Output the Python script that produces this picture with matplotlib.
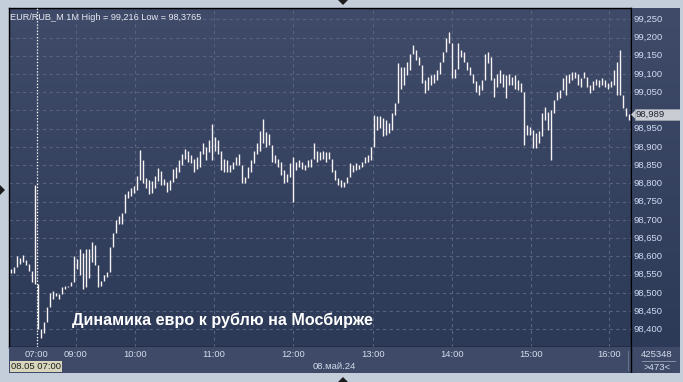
import numpy as np
import matplotlib.pyplot as plt
from matplotlib.colors import LinearSegmentedColormap
from matplotlib.patches import Rectangle, Polygon

# EUR/RUB_M 1M, 08.05.24 - low/high per chart slot
lows = [98.555, 98.555, 98.570, 98.580, 98.585, 98.575, 98.560, 98.530, 98.525, 98.400,
        98.377, 98.390, 98.435, 98.478, 98.483, 98.490, 98.482, 98.510, 98.510, 98.515,
        98.520, 98.565, 98.565, 98.550, 98.510, 98.515, 98.540, 98.584, 98.575, 98.515,
        98.520, 98.534, 98.543, 98.556, 98.638, 98.675, 98.688, 98.690, 98.734, 98.760,
        98.765, 98.775, 98.783, 98.810, 98.800, 98.788, 98.770, 98.775, 98.788, 98.806,
        98.797, 98.795, 98.777, 98.782, 98.805, 98.814, 98.832, 98.850, 98.868, 98.860,
        98.855, 98.832, 98.840, 98.845, 98.882, 98.864, 98.886, 98.864, 98.890, 98.882,
        98.836, 98.832, 98.832, 98.832, 98.840, 98.850, 98.850, 98.800, 98.800, 98.814,
        98.832, 98.855, 98.882, 98.890, 98.910, 98.900, 98.905, 98.860, 98.855, 98.845,
        98.823, 98.800, 98.805, 98.818, 98.750, 98.836, 98.845, 98.840, 98.836, 98.845,
        98.845, 98.868, 98.860, 98.864, 98.868, 98.860, 98.868, 98.832, 98.810, 98.795,
        98.790, 98.790, 98.800, 98.818, 98.832, 98.836, 98.840, 98.845, 98.855, 98.860,
        98.864, 98.938, 98.947, 98.952, 98.930, 98.934, 98.938, 98.947, 98.988, 99.052,
        99.060, 99.070, 99.097, 99.110, 99.156, 99.138, 99.125, 99.075, 99.047, 99.056,
        99.070, 99.075, 99.084, 99.100, 99.134, 99.180, 99.184, 99.088, 99.088, 99.147,
        99.147, 99.134, 99.110, 99.097, 99.075, 99.052, 99.043, 99.056, 99.093, 99.130,
        99.084, 99.038, 99.065, 99.075, 99.065, 99.034, 99.070, 99.070, 99.060, 99.056,
        99.052, 98.906, 98.934, 98.934, 98.897, 98.897, 98.910, 98.930, 98.975, 98.947,
        98.865, 98.993, 99.030, 99.034, 99.060, 99.043, 99.075, 99.084, 99.088, 99.070,
        99.065, 99.088, 99.065, 99.047, 99.056, 99.070, 99.065, 99.070, 99.065, 99.060,
        99.065, 99.070, 99.043, 99.043, 99.006, 98.984, 98.975]
highs = [98.565, 98.570, 98.600, 98.595, 98.605, 98.590, 98.580, 98.560, 98.797, 98.430,
         98.400, 98.420, 98.460, 98.500, 98.506, 98.500, 98.497, 98.516, 98.520, 98.520,
         98.530, 98.600, 98.593, 98.620, 98.610, 98.620, 98.620, 98.640, 98.630, 98.540,
         98.533, 98.550, 98.556, 98.625, 98.665, 98.700, 98.710, 98.720, 98.770, 98.780,
         98.788, 98.793, 98.820, 98.893, 98.865, 98.815, 98.810, 98.806, 98.820, 98.843,
         98.834, 98.813, 98.805, 98.810, 98.840, 98.845, 98.864, 98.880, 98.895, 98.890,
         98.877, 98.868, 98.873, 98.890, 98.910, 98.900, 98.918, 98.964, 98.927, 98.918,
         98.890, 98.868, 98.864, 98.850, 98.860, 98.873, 98.882, 98.845, 98.818, 98.845,
         98.864, 98.890, 98.910, 98.945, 98.977, 98.940, 98.936, 98.880, 98.877, 98.868,
         98.860, 98.836, 98.827, 98.855, 98.873, 98.860, 98.864, 98.860, 98.850, 98.864,
         98.868, 98.910, 98.890, 98.886, 98.890, 98.886, 98.886, 98.868, 98.836, 98.814,
         98.810, 98.805, 98.818, 98.855, 98.850, 98.855, 98.850, 98.860, 98.873, 98.877,
         98.900, 98.988, 98.984, 98.984, 98.980, 98.975, 98.965, 98.993, 99.020, 99.130,
         99.120, 99.120, 99.134, 99.156, 99.180, 99.165, 99.147, 99.120, 99.084, 99.093,
         99.097, 99.100, 99.110, 99.134, 99.160, 99.200, 99.216, 99.180, 99.115, 99.184,
         99.165, 99.160, 99.130, 99.120, 99.100, 99.080, 99.070, 99.084, 99.156, 99.160,
         99.147, 99.088, 99.100, 99.110, 99.100, 99.097, 99.100, 99.093, 99.097, 99.084,
         99.075, 99.052, 98.960, 98.956, 98.947, 98.938, 98.943, 98.993, 99.010, 98.997,
         99.002, 99.030, 99.052, 99.056, 99.088, 99.097, 99.100, 99.106, 99.106, 99.100,
         99.088, 99.106, 99.093, 99.070, 99.080, 99.085, 99.084, 99.088, 99.084, 99.075,
         99.080, 99.110, 99.134, 99.167, 99.030, 99.006, 98.990]
last_price = 98.989

hour_labels = ['07:00', '09:00', '10:00', '11:00', '12:00', '13:00', '14:00', '15:00', '16:00']
hour_pos = [8.67, 21.7, 41.5, 67.8, 94.2, 120.7, 147.2, 173.5, 199.5]
yticks = np.round(np.arange(98.40, 99.2501, 0.05), 3)

W, H = 683, 382
fig = plt.figure(figsize=(W / 100, H / 100), dpi=100)
fig.patch.set_facecolor('#c4cedb')
plt.rcParams['font.family'] = ['Liberation Sans', 'DejaVu Sans']

def fx(px):
    return px / W

def fy(py):
    return 1 - py / H

bg = LinearSegmentedColormap.from_list('bg', ['#2c3957', '#3f4b69'])
grad = np.linspace(0, 1, 256).reshape(-1, 1)

# main plot area
L, R, T, B = 9, 631, 8, 347
ax = fig.add_axes([fx(L), fy(B), fx(R - L), fy(T) - fy(B)])
ax.imshow(grad, cmap=bg, origin='lower', aspect='auto', extent=[0, 1, 0, 1],
          transform=ax.transAxes, zorder=0)
ax.set_xlim(-0.5, 206.83)
ax.set_ylim(98.3515, 99.281)

lo = np.array(lows)
hi = np.array(highs)
# join neighbouring bars so the trace looks continuous
lo2 = lo.copy()
hi2 = hi.copy()
lo2[1:] = np.minimum(lo[1:], hi[:-1])
hi2[1:] = np.maximum(hi[1:], lo[:-1])
x = np.arange(len(lo))
ax.vlines(x, lo2, hi2, color='#f7f3f2', lw=1.0, zorder=3)

ax.set_yticks(yticks)
ax.set_xticks(hour_pos)
ax.grid(True, color='#56637f', ls=(0, (3, 3)), lw=0.8)
ax.tick_params(length=0, labelleft=False, labelbottom=False)
for s in ax.spines.values():
    s.set_color('black')
    s.set_linewidth(1)

# session start marker
ax.axvline(hour_pos[0], color='white', ls=(0, (1, 1.5)), lw=0.9, zorder=4)

ax.text(0.002, 0.985, 'EUR/RUB_M 1M High = 99,216 Low = 98,3765', transform=ax.transAxes,
        ha='left', va='top', fontsize=6.6, color='#e6e9f0')
ax.text(0.102, 0.078, 'Динамика евро к рублю на Мосбирже', transform=ax.transAxes,
        ha='left', va='center', fontsize=11.6, fontweight='bold', color='white', zorder=5)

# right price scale
axr = fig.add_axes([fx(R), fy(B), fx(680 - R), fy(T) - fy(B)])
axr.imshow(grad, cmap=bg, origin='lower', aspect='auto', extent=[0, 1, 0, 1],
           transform=axr.transAxes, zorder=0)
axr.set_xlim(0, 1)
axr.set_ylim(ax.get_ylim())
axr.set_xticks([])
axr.set_yticks([])
for s in axr.spines.values():
    s.set_visible(False)
axr.spines['left'].set_visible(True)
axr.spines['left'].set_color('black')
for v in yticks:
    if abs(v - last_price) < 0.02:
        continue  # hidden behind the last-price box
    axr.text(0.06, v, f'{v:.3f}'.replace('.', ','), ha='left', va='center',
             fontsize=6.8, color='#cfdcf2')
axr.add_patch(Rectangle((0.08, last_price - 0.016), 0.92, 0.032, facecolor='#c9ccd3',
                        edgecolor='#9aa0aa', lw=0.6, zorder=3))
axr.add_patch(Polygon([[0.0, last_price], [0.09, last_price + 0.012], [0.09, last_price - 0.012]],
                      closed=True, facecolor='#c9ccd3', edgecolor='none', zorder=3))
axr.text(0.1, last_price, f'{last_price:.3f}'.replace('.', ','), ha='left', va='center',
         fontsize=6.8, color='#1e2430', zorder=4)

# bottom time scale band
axb = fig.add_axes([fx(L), fy(373), fx(680 - L), fy(B) - fy(373)])
axb.set_facecolor('#3e4a67')
axb.set_xlim(L, 680)
axb.set_ylim(373, B)
axb.set_xticks([])
axb.set_yticks([])
for s in axb.spines.values():
    s.set_visible(False)
axb.axvline(R, color='black', lw=1)
axb.axvline(627.5, color='#6a7488', lw=0.8, ymin=0.1, ymax=0.85)
for lab, p in zip(hour_labels, hour_pos):
    px = 10.5 + 3 * p
    axb.text(px, 354.5, lab, ha='center', va='center', fontsize=6.8, color='#d3dbeb')
axb.text(36, 366.5, '08.05 07:00', ha='center', va='center', fontsize=6.8, color='#202020',
         bbox=dict(boxstyle='square,pad=0.15', facecolor='#d8d7bd', edgecolor='none'))
axb.text(334, 366.5, '08.май.24', ha='center', va='center', fontsize=6.8, color='#d3dbeb')
axb.text(657, 355, '425348', ha='center', va='center', fontsize=6.8, color='#d3dbeb')
axb.plot([642, 675], [361.5, 361.5], color='#8792a8', lw=0.7)
axb.text(657, 367.5, '>473<', ha='center', va='center', fontsize=6.8, color='#d3dbeb')

# frame arrows
fig.patches.append(Polygon([[fx(338), fy(0)], [fx(348), fy(0)], [fx(343), fy(5)]],
                           closed=True, transform=fig.transFigure, facecolor='#1c1c1c'))
fig.patches.append(Polygon([[fx(338), fy(382)], [fx(348), fy(382)], [fx(343), fy(377)]],
                           closed=True, transform=fig.transFigure, facecolor='#1c1c1c'))
fig.patches.append(Polygon([[fx(0), fy(185)], [fx(0), fy(195)], [fx(5), fy(190)]],
                           closed=True, transform=fig.transFigure, facecolor='#1c1c1c'))

fig.savefig('out.png', dpi=100, facecolor=fig.get_facecolor())
